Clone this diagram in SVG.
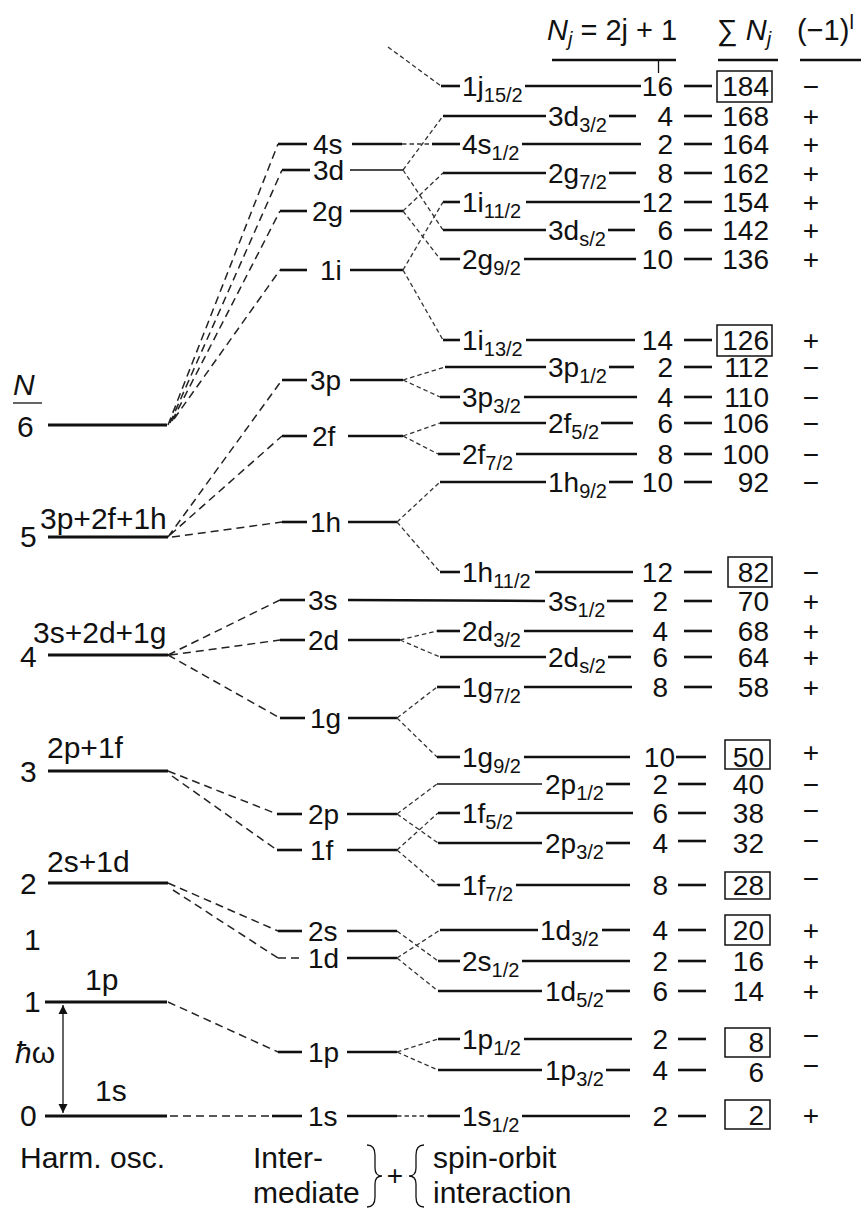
<svg xmlns="http://www.w3.org/2000/svg" width="861" height="1211" viewBox="0 0 861 1211">
<style>
text{font-family:"Liberation Sans",Arial,Helvetica,sans-serif;font-size:28px;fill:#111}
.s{font-size:20px}
.e{text-anchor:end}
.m{text-anchor:middle}
.it{font-style:italic}
.big{font-size:30px}
.hd{font-size:29px}
.L{stroke:#111;stroke-width:2.6;fill:none}
.H{stroke:#111;stroke-width:3;fill:none}
.T{stroke:#111;stroke-width:1.3;fill:none}
.d{stroke:#222;stroke-width:1.5;stroke-dasharray:8 5;fill:none}
.b{stroke:#333;stroke-width:1.3;stroke-dasharray:4.5 3;fill:none}
.box{stroke:#111;stroke-width:1.5;fill:none}
</style>
<defs>
<marker id="ah" viewBox="0 0 10 10" refX="10" refY="5" markerWidth="9" markerHeight="12" markerUnits="userSpaceOnUse" orient="auto-start-reverse"><path d="M0,0 L10,5 L0,10 Z" fill="#111"/></marker>
</defs>

<g id="header">
<text x="547" y="40" class="hd"><tspan class="it">N</tspan><tspan class="s it" dy="6">j</tspan><tspan dy="-6"> = 2j + 1</tspan></text>
<line x1="552" y1="60" x2="676" y2="60" class="L"/>
<line x1="658.5" y1="60" x2="658.5" y2="73" class="T"/>
<text x="717" y="40" class="hd">∑ <tspan class="it">N</tspan><tspan class="s it" dy="6">j</tspan></text>
<line x1="718" y1="60" x2="778" y2="60" class="L"/>
<text x="797" y="40" class="hd">(−1)<tspan class="s" dy="-11">l</tspan></text>
<line x1="800" y1="60" x2="861" y2="60" class="L"/>
</g>

<g id="ho-levels">
<g id="ho6"><text x="13" y="395" class="it big">N</text><line x1="13" y1="403" x2="42" y2="403" class="T"/><text x="17" y="437" class="big">6</text><line x1="48" y1="425" x2="167" y2="425" class="H"/></g>
<g id="ho5"><text x="20" y="547" class="big">5</text><text x="40" y="529" class="big">3p+2f+1h</text><line x1="48" y1="537" x2="168" y2="537" class="H"/></g>
<g id="ho4"><text x="20" y="667" class="big">4</text><text x="33" y="643" class="big">3s+2d+1g</text><line x1="48" y1="655" x2="168" y2="655" class="H"/></g>
<g id="ho3"><text x="20" y="782" class="big">3</text><text x="47" y="758" class="big">2p+1f</text><line x1="48" y1="771" x2="168" y2="771" class="H"/></g>
<g id="ho2"><text x="20" y="894" class="big">2</text><text x="47" y="872" class="big">2s+1d</text><line x1="48" y1="883" x2="168" y2="883" class="H"/></g>
<g id="ho1a"><text x="24" y="950" class="big">1</text></g>
<g id="ho1"><text x="24" y="1012" class="big">1</text><text x="85" y="990" class="big">1p</text><line x1="45" y1="1002" x2="167" y2="1002" class="H"/></g>
<g id="ho0"><text x="20" y="1126" class="big">0</text><text x="95" y="1101" class="big">1s</text><line x1="45" y1="1116" x2="167" y2="1116" class="H"/></g>
<g id="hw"><line x1="63" y1="1005" x2="63" y2="1113" class="T" marker-start="url(#ah)" marker-end="url(#ah)"/><text x="15" y="1063" class="big"><tspan class="it">ħ</tspan>ω</text></g>
</g>

<g id="intermediate">
<g id="i4s"><line x1="278" y1="144" x2="307" y2="144" class="L"/><text x="313" y="154">4s</text><line x1="352" y1="144" x2="402" y2="144" class="L"/></g>
<g id="i3d"><line x1="282" y1="170" x2="310" y2="170" class="L"/><text x="313" y="180">3d</text><line x1="350" y1="170" x2="403" y2="170" class="T"/></g>
<g id="i2g"><line x1="280" y1="211" x2="307" y2="211" class="L"/><text x="312" y="221">2g</text><line x1="350" y1="211" x2="403" y2="211" class="L"/></g>
<g id="i1i"><line x1="280" y1="270" x2="307" y2="270" class="L"/><text x="320" y="280">1i</text><line x1="350" y1="270" x2="403" y2="270" class="L"/></g>
<g id="i3p"><line x1="282" y1="380" x2="307" y2="380" class="L"/><text x="310" y="390">3p</text><line x1="350" y1="380" x2="403" y2="380" class="L"/></g>
<g id="i2f"><line x1="282" y1="436" x2="307" y2="436" class="L"/><text x="312" y="446">2f</text><line x1="348" y1="436" x2="403" y2="436" class="L"/></g>
<g id="i1h"><line x1="282" y1="522" x2="307" y2="522" class="L"/><text x="310" y="532">1h</text><line x1="348" y1="522" x2="397" y2="522" class="L"/></g>
<g id="i3s"><line x1="280" y1="600" x2="305" y2="600" class="L"/><text x="308" y="610">3s</text><line x1="348" y1="600" x2="545" y2="601" class="L"/></g>
<g id="i2d"><line x1="280" y1="640" x2="305" y2="640" class="L"/><text x="308" y="650">2d</text><line x1="348" y1="640" x2="400" y2="640" class="L"/></g>
<g id="i1g"><line x1="280" y1="718" x2="305" y2="718" class="L"/><text x="310" y="728">1g</text><line x1="348" y1="718" x2="397" y2="718" class="L"/></g>
<g id="i2p"><line x1="277" y1="814" x2="302" y2="814" class="L"/><text x="308" y="824">2p</text><line x1="347" y1="814" x2="397" y2="814" class="L"/></g>
<g id="i1f"><line x1="277" y1="850" x2="302" y2="850" class="L"/><text x="310" y="860">1f</text><line x1="347" y1="850" x2="397" y2="850" class="L"/></g>
<g id="i2s"><line x1="278" y1="931" x2="302" y2="931" class="L"/><text x="308" y="941">2s</text><line x1="347" y1="931" x2="397" y2="931" class="L"/></g>
<g id="i1d"><line x1="278" y1="958" x2="302" y2="958" class="d"/><text x="308" y="968">1d</text><line x1="347" y1="958" x2="397" y2="958" class="L"/></g>
<g id="i1p"><line x1="278" y1="1052" x2="302" y2="1052" class="L"/><text x="308" y="1062">1p</text><line x1="347" y1="1052" x2="397" y2="1052" class="L"/></g>
<g id="i1s"><line x1="272" y1="1116" x2="302" y2="1116" class="L"/><text x="308" y="1126">1s</text><line x1="347" y1="1116" x2="397" y2="1116" class="L"/></g>
</g>

<g id="levels">
<g id="r1"><line x1="441" y1="86" x2="460" y2="86" class="L"/><text x="462" y="96">1j<tspan class="s" dy="6">15/2</tspan></text><line x1="525" y1="86" x2="641" y2="86" class="L"/><text x="673" y="96" class="e">16</text><line x1="684" y1="86" x2="712" y2="86" class="L"/><rect x="717" y="71" width="55" height="31" class="box"/><text x="769" y="96" class="e">184</text><text x="811" y="96" class="m">−</text></g>
<g id="r2"><line x1="443" y1="116" x2="546" y2="116" class="L"/><text x="548" y="126">3d<tspan class="s" dy="6">3/2</tspan></text><line x1="609" y1="116" x2="636" y2="116" class="L"/><text x="673" y="126" class="e">4</text><line x1="684" y1="116" x2="712" y2="116" class="L"/><text x="769" y="126" class="e">168</text><text x="811" y="126" class="m">+</text></g>
<g id="r3"><line x1="432" y1="144" x2="460" y2="144" class="L"/><text x="462" y="154">4s<tspan class="s" dy="6">1/2</tspan></text><line x1="522" y1="144" x2="641" y2="144" class="L"/><text x="673" y="154" class="e">2</text><line x1="684" y1="144" x2="712" y2="144" class="L"/><text x="769" y="154" class="e">164</text><text x="811" y="154" class="m">+</text></g>
<g id="r4"><line x1="443" y1="173" x2="546" y2="173" class="L"/><text x="548" y="183">2g<tspan class="s" dy="6">7/2</tspan></text><line x1="609" y1="173" x2="636" y2="173" class="L"/><text x="673" y="183" class="e">8</text><line x1="684" y1="173" x2="712" y2="173" class="L"/><text x="769" y="183" class="e">162</text><text x="811" y="183" class="m">+</text></g>
<g id="r5"><line x1="443" y1="202" x2="460" y2="202" class="L"/><text x="462" y="212">1i<tspan class="s" dy="6">11/2</tspan></text><line x1="526" y1="202" x2="640" y2="202" class="L"/><text x="673" y="212" class="e">12</text><line x1="684" y1="202" x2="712" y2="202" class="L"/><text x="769" y="212" class="e">154</text><text x="811" y="212" class="m">+</text></g>
<g id="r6"><line x1="443" y1="230" x2="546" y2="230" class="L"/><text x="548" y="240">3d<tspan class="s" dy="6">s/2</tspan></text><line x1="608" y1="230" x2="635" y2="230" class="L"/><text x="673" y="240" class="e">6</text><line x1="684" y1="230" x2="712" y2="230" class="L"/><text x="769" y="240" class="e">142</text><text x="811" y="240" class="m">+</text></g>
<g id="r7"><line x1="440" y1="259" x2="460" y2="259" class="L"/><text x="462" y="269">2g<tspan class="s" dy="6">9/2</tspan></text><line x1="524" y1="259" x2="636" y2="259" class="L"/><text x="673" y="269" class="e">10</text><line x1="684" y1="259" x2="712" y2="259" class="L"/><text x="769" y="269" class="e">136</text><text x="811" y="269" class="m">+</text></g>
<g id="r8"><line x1="443" y1="340" x2="460" y2="340" class="L"/><text x="462" y="350">1i<tspan class="s" dy="6">13/2</tspan></text><line x1="526" y1="340" x2="635" y2="340" class="L"/><text x="673" y="350" class="e">14</text><line x1="684" y1="340" x2="712" y2="340" class="L"/><rect x="717" y="325" width="55" height="31" class="box"/><text x="769" y="350" class="e">126</text><text x="811" y="350" class="m">+</text></g>
<g id="r9"><line x1="445" y1="367" x2="546" y2="367" class="L"/><text x="548" y="377">3p<tspan class="s" dy="6">1/2</tspan></text><line x1="609" y1="367" x2="634" y2="367" class="L"/><text x="673" y="377" class="e">2</text><line x1="684" y1="367" x2="712" y2="367" class="L"/><text x="769" y="377" class="e">112</text><text x="811" y="377" class="m">−</text></g>
<g id="r10"><line x1="440" y1="397" x2="460" y2="397" class="L"/><text x="462" y="407">3p<tspan class="s" dy="6">3/2</tspan></text><line x1="524" y1="397" x2="637" y2="397" class="L"/><text x="673" y="407" class="e">4</text><line x1="684" y1="397" x2="712" y2="397" class="L"/><text x="769" y="407" class="e">110</text><text x="811" y="407" class="m">−</text></g>
<g id="r11"><line x1="440" y1="423" x2="546" y2="423" class="L"/><text x="548" y="433">2f<tspan class="s" dy="6">5/2</tspan></text><line x1="601" y1="423" x2="633" y2="423" class="L"/><text x="673" y="433" class="e">6</text><line x1="684" y1="423" x2="712" y2="423" class="L"/><text x="769" y="433" class="e">106</text><text x="811" y="433" class="m">−</text></g>
<g id="r12"><line x1="438" y1="454" x2="460" y2="454" class="L"/><text x="462" y="464">2f<tspan class="s" dy="6">7/2</tspan></text><line x1="516" y1="454" x2="637" y2="454" class="L"/><text x="673" y="464" class="e">8</text><line x1="684" y1="454" x2="712" y2="454" class="L"/><text x="769" y="464" class="e">100</text><text x="811" y="464" class="m">−</text></g>
<g id="r13"><line x1="440" y1="482" x2="546" y2="482" class="L"/><text x="548" y="492">1h<tspan class="s" dy="6">9/2</tspan></text><line x1="609" y1="482" x2="633" y2="482" class="L"/><text x="673" y="492" class="e">10</text><line x1="684" y1="482" x2="712" y2="482" class="L"/><text x="769" y="492" class="e">92</text><text x="811" y="492" class="m">−</text></g>
<g id="r14"><line x1="440" y1="572" x2="460" y2="572" class="L"/><text x="462" y="582">1h<tspan class="s" dy="6">11/2</tspan></text><line x1="535" y1="572" x2="633" y2="572" class="L"/><text x="673" y="582" class="e">12</text><line x1="684" y1="572" x2="712" y2="572" class="L"/><rect x="728" y="557" width="44" height="30" class="box"/><text x="769" y="582" class="e">82</text><text x="811" y="582" class="m">−</text></g>
<g id="r15"><text x="548" y="611">3s<tspan class="s" dy="6">1/2</tspan></text><line x1="607" y1="601" x2="633" y2="601" class="L"/><text x="668" y="611" class="e">2</text><line x1="684" y1="601" x2="712" y2="601" class="L"/><text x="769" y="611" class="e">70</text><text x="811" y="611" class="m">+</text></g>
<g id="r16"><line x1="437" y1="631" x2="460" y2="631" class="L"/><text x="462" y="641">2d<tspan class="s" dy="6">3/2</tspan></text><line x1="524" y1="631" x2="633" y2="631" class="L"/><text x="668" y="641" class="e">4</text><line x1="684" y1="631" x2="712" y2="631" class="L"/><text x="769" y="641" class="e">68</text><text x="811" y="641" class="m">+</text></g>
<g id="r17"><line x1="440" y1="657" x2="546" y2="657" class="L"/><text x="548" y="667">2d<tspan class="s" dy="6">s/2</tspan></text><line x1="608" y1="657" x2="631" y2="657" class="L"/><text x="668" y="667" class="e">6</text><line x1="684" y1="657" x2="712" y2="657" class="L"/><text x="769" y="667" class="e">64</text><text x="811" y="667" class="m">+</text></g>
<g id="r18"><line x1="437" y1="687" x2="460" y2="687" class="L"/><text x="462" y="697">1g<tspan class="s" dy="6">7/2</tspan></text><line x1="524" y1="687" x2="632" y2="687" class="L"/><text x="668" y="697" class="e">8</text><line x1="684" y1="687" x2="712" y2="687" class="L"/><text x="769" y="697" class="e">58</text><text x="811" y="697" class="m">+</text></g>
<g id="r19"><line x1="437" y1="757" x2="460" y2="757" class="L"/><text x="462" y="767">1g<tspan class="s" dy="6">9/2</tspan></text><line x1="524" y1="757" x2="630" y2="757" class="L"/><text x="675" y="767" class="e">10</text><line x1="676" y1="757" x2="706" y2="757" class="L"/><rect x="725" y="740" width="45" height="29" class="box"/><text x="764" y="767" class="e">50</text><text x="811" y="762" class="m">+</text></g>
<g id="r20"><line x1="437" y1="784" x2="542" y2="784" class="T"/><text x="545" y="794">2p<tspan class="s" dy="6">1/2</tspan></text><line x1="606" y1="784" x2="630" y2="784" class="L"/><text x="668" y="794" class="e">2</text><line x1="678" y1="784" x2="706" y2="784" class="L"/><text x="764" y="794" class="e">40</text><text x="811" y="794" class="m">−</text></g>
<g id="r21"><line x1="438" y1="813" x2="460" y2="813" class="L"/><text x="462" y="823">1f<tspan class="s" dy="6">5/2</tspan></text><line x1="516" y1="813" x2="633" y2="813" class="L"/><text x="668" y="823" class="e">6</text><line x1="678" y1="813" x2="706" y2="813" class="L"/><text x="764" y="823" class="e">38</text><text x="811" y="820" class="m">−</text></g>
<g id="r22"><line x1="438" y1="843" x2="542" y2="843" class="L"/><text x="545" y="853">2p<tspan class="s" dy="6">3/2</tspan></text><line x1="606" y1="843" x2="630" y2="843" class="L"/><text x="668" y="853" class="e">4</text><line x1="678" y1="841" x2="706" y2="841" class="L"/><text x="764" y="853" class="e">32</text><text x="811" y="850" class="m">−</text></g>
<g id="r23"><line x1="438" y1="885" x2="460" y2="885" class="L"/><text x="462" y="895">1f<tspan class="s" dy="6">7/2</tspan></text><line x1="516" y1="885" x2="630" y2="885" class="L"/><text x="668" y="895" class="e">8</text><line x1="678" y1="885" x2="706" y2="885" class="L"/><rect x="725" y="872" width="45" height="27" class="box"/><text x="764" y="895" class="e">28</text><text x="811" y="888" class="m">−</text></g>
<g id="r24"><line x1="440" y1="930" x2="538" y2="930" class="L"/><text x="540" y="940">1d<tspan class="s" dy="6">3/2</tspan></text><line x1="602" y1="930" x2="630" y2="930" class="L"/><text x="668" y="940" class="e">4</text><line x1="678" y1="930" x2="706" y2="930" class="L"/><rect x="725" y="915" width="45" height="30" class="box"/><text x="764" y="940" class="e">20</text><text x="811" y="940" class="m">+</text></g>
<g id="r25"><line x1="438" y1="961" x2="460" y2="961" class="L"/><text x="462" y="971">2s<tspan class="s" dy="6">1/2</tspan></text><line x1="522" y1="961" x2="630" y2="961" class="L"/><text x="668" y="971" class="e">2</text><line x1="678" y1="961" x2="706" y2="961" class="L"/><text x="764" y="971" class="e">16</text><text x="811" y="971" class="m">+</text></g>
<g id="r26"><line x1="438" y1="991" x2="542" y2="991" class="L"/><text x="545" y="1001">1d<tspan class="s" dy="6">5/2</tspan></text><line x1="606" y1="991" x2="630" y2="991" class="L"/><text x="668" y="1001" class="e">6</text><line x1="678" y1="991" x2="706" y2="991" class="L"/><text x="764" y="1001" class="e">14</text><text x="811" y="1001" class="m">+</text></g>
<g id="r27"><line x1="438" y1="1039" x2="460" y2="1039" class="L"/><text x="462" y="1049">1p<tspan class="s" dy="6">1/2</tspan></text><line x1="524" y1="1039" x2="632" y2="1039" class="L"/><text x="668" y="1049" class="e">2</text><line x1="678" y1="1039" x2="706" y2="1039" class="L"/><rect x="725" y="1028" width="45" height="29" class="box"/><text x="764" y="1052" class="e">8</text><text x="811" y="1045" class="m">−</text></g>
<g id="r28"><line x1="438" y1="1070" x2="542" y2="1070" class="L"/><text x="545" y="1080">1p<tspan class="s" dy="6">3/2</tspan></text><line x1="606" y1="1070" x2="630" y2="1070" class="L"/><text x="668" y="1080" class="e">4</text><line x1="678" y1="1070" x2="706" y2="1070" class="L"/><text x="764" y="1082" class="e">6</text><text x="811" y="1075" class="m">−</text></g>
<g id="r29"><line x1="428" y1="1116" x2="460" y2="1116" class="L"/><text x="462" y="1126">1s<tspan class="s" dy="6">1/2</tspan></text><line x1="522" y1="1116" x2="630" y2="1116" class="L"/><text x="668" y="1126" class="e">2</text><line x1="678" y1="1116" x2="706" y2="1116" class="L"/><rect x="725" y="1100" width="45" height="29" class="box"/><text x="764" y="1125" class="e">2</text><text x="811" y="1125" class="m">+</text></g>
</g>

<g id="connectors">
<path class="d" d="M168,425 L278,144 M170,423 L282,170 M172,421 L280,211 M174,419 L280,270"/>
<path class="d" d="M168,537 L282,380 M170,535 L282,436 M172,537 L282,522"/>
<path class="d" d="M168,655 L280,600 M170,655 L280,640 M168,655 L280,718"/>
<path class="d" d="M168,771 L277,814 M172,776 L277,850"/>
<path class="d" d="M168,883 L278,931 M173,890 L278,958"/>
<path class="d" d="M168,1002 L278,1052"/>
<path class="d" d="M170,1116 L272,1116"/>
<path class="b" d="M388,47 L441,86"/>
<path class="b" d="M402,144 L432,144"/>
<path class="b" d="M403,170 L443,116 M403,170 L443,230"/>
<path class="b" d="M403,211 L443,173 M403,211 L440,259"/>
<path class="b" d="M403,270 L443,202 M403,270 L443,340"/>
<path class="b" d="M403,380 L445,367 M403,380 L440,397"/>
<path class="b" d="M403,436 L440,423 M403,436 L438,454"/>
<path class="b" d="M397,522 L440,482 M397,522 L440,572"/>
<path class="b" d="M400,640 L437,631 M400,640 L440,657"/>
<path class="b" d="M397,718 L437,687 M397,718 L437,757"/>
<path class="b" d="M397,814 L437,784 M397,814 L438,843"/>
<path class="b" d="M397,850 L438,813 M397,850 L438,885"/>
<path class="b" d="M397,931 L438,961"/>
<path class="b" d="M397,958 L440,930 M397,958 L438,991"/>
<path class="b" d="M397,1052 L438,1039 M397,1052 L438,1070"/>
<path class="b" d="M397,1116 L428,1116"/>
</g>

<g id="captions">
<text x="20" y="1168" class="big">Harm. osc.</text>
<text x="253" y="1168" class="big">Inter-</text>
<text x="253" y="1203" class="big">mediate</text>
<path d="M367,1145 Q375,1145 375,1155 L375,1168 Q375,1176 382,1176 Q375,1176 375,1184 L375,1197 Q375,1207 367,1207" class="T"/>
<text x="395" y="1185" class="m">+</text>
<path d="M424,1145 Q416,1145 416,1155 L416,1168 Q416,1176 409,1176 Q416,1176 416,1184 L416,1197 Q416,1207 424,1207" class="T"/>
<text x="433" y="1168" class="big">spin-orbit</text>
<text x="433" y="1203" class="big">interaction</text>
</g>
</svg>
